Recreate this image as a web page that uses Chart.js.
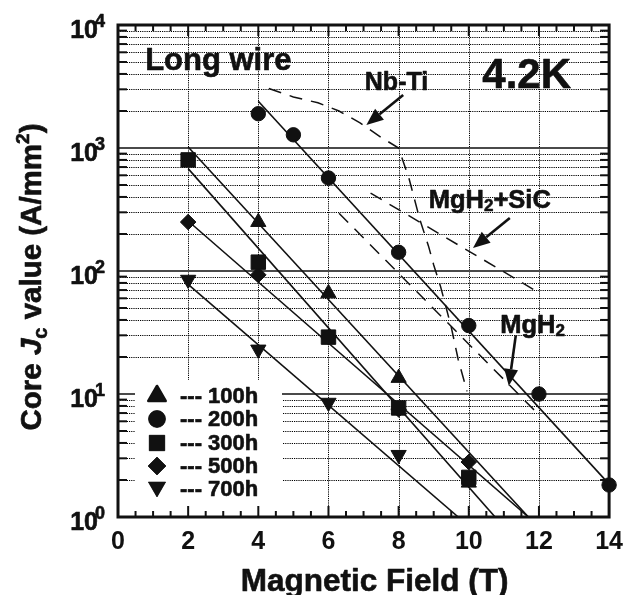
<!DOCTYPE html>
<html><head><meta charset="utf-8">
<script src="https://cdn.jsdelivr.net/npm/chart.js@4.4.0/dist/chart.umd.min.js"></script>
<style>html,body{margin:0;padding:0;background:#fff;}canvas{display:block;}</style>
</head><body>
<canvas id="c" width="633" height="595"></canvas>
<script>
// ---------- data ----------
const xTicks = [0, 2, 4, 6, 8, 10, 12, 14];
const yDecades = [0, 1, 2, 3, 4];
const seriesNames = ['100h', '200h', '300h', '500h', '700h'];

const field100 = [4, 6, 8, 10];            const jc100 = [250, 66, 13.5, 1.9];
const field200 = [4, 5, 6, 8, 10, 12, 14]; const jc200 = [1900, 1280, 570, 142, 36, 10, 1.82];
const field300 = [2, 4, 6, 8, 10];         const jc300 = [800, 118, 29, 7.7, 2.1];
const field500 = [2, 4, 6, 8, 10];         const jc500 = [250, 93, 29, 7.5, 2.8];
const field700 = [2, 4, 6, 8];             const jc700 = [85, 23, 8.5, 3.2];

// fitted (solid) lines
const fitField100 = [2, 11.7];  const fitJc100 = [1020, 1];
const fitField200 = [4, 14];    const fitJc200 = [2400, 1.85];
const fitField300 = [2, 10.75]; const fitJc300 = [680, 1];
const fitField500 = [2, 11.7];  const fitJc500 = [255, 1];
const fitField700 = [2, 9.7];   const fitJc700 = [78, 1];

// reference (dashed) curves
const nbtiField = [4.3, 5.0, 5.7, 6.3, 6.9, 7.5, 8.0, 8.3, 8.6, 8.85, 9.0, 9.2, 9.5, 9.7, 9.95];
const nbtiJc    = [3050, 2600, 2330, 2000, 1600, 1220, 1000, 560, 265, 160, 112, 74, 35, 19, 10.5];
const sicField  = [7.2, 11.95];  const sicJc  = [430, 68];
const mgh2Field = [6.3, 11.95];  const mgh2Jc = [295, 7];

// ---------- helpers ----------
const FAM = "'Liberation Sans', Arial, sans-serif";
const fnt = (s, it) => (it ? 'italic ' : '') + 'bold ' + s + 'px ' + FAM;
const pts = (xs, ys) => xs.map((v, i) => ({x: v, y: ys[i]}));
const INK = '#111';

function drawRuns(ctx, runs, x, y, align) {
  let w = 0;
  runs.forEach(r => { ctx.font = fnt(r.s, r.it); r.w = ctx.measureText(r.t).width; w += r.w; });
  let cx = align === 'center' ? x - w / 2 : (align === 'right' ? x - w : x);
  ctx.textAlign = 'left'; ctx.textBaseline = 'alphabetic';
  ctx.fillStyle = INK; ctx.strokeStyle = INK; ctx.lineWidth = 0.6; ctx.lineJoin = 'round';
  runs.forEach(r => {
    ctx.font = fnt(r.s, r.it);
    ctx.fillText(r.t, cx, y + (r.dy || 0));
    ctx.strokeText(r.t, cx, y + (r.dy || 0));
    cx += r.w;
  });
}
function seg(ctx, x1, y1, x2, y2) { ctx.beginPath(); ctx.moveTo(x1, y1); ctx.lineTo(x2, y2); ctx.stroke(); }
function arrow(ctx, x1, y1, x2, y2) {
  const ang = Math.atan2(y2 - y1, x2 - x1), L = 17, W = 7;
  const bx = x2 - L * Math.cos(ang), by = y2 - L * Math.sin(ang);
  ctx.lineWidth = 2.6; ctx.strokeStyle = INK; seg(ctx, x1, y1, bx, by);
  ctx.beginPath(); ctx.moveTo(x2, y2);
  ctx.lineTo(bx + W * Math.sin(ang), by - W * Math.cos(ang));
  ctx.lineTo(bx - W * Math.sin(ang), by + W * Math.cos(ang));
  ctx.closePath(); ctx.fillStyle = INK; ctx.fill();
}

const decor = {
  id: 'decor',
  beforeDatasetsDraw(chart) {
    const {ctx, chartArea: a, scales: {x, y}} = chart;
    ctx.save();
    ctx.strokeStyle = '#000'; ctx.lineWidth = 1; ctx.setLineDash([1.2, 1]);
    for (let e = 0; e < 4; e++) for (let m = 2; m <= 9; m++) {
      const py = Math.round(y.getPixelForValue(m * Math.pow(10, e))) + 0.5;
      seg(ctx, a.left, py, a.right, py);
    }
    xTicks.filter(t => t > 0 && t < 14).forEach(t => {
      const px = Math.round(x.getPixelForValue(t)) + 0.5;
      seg(ctx, px, a.top, px, a.bottom);
    });
    ctx.setLineDash([]);
    ctx.strokeStyle = '#4a4a4a'; ctx.lineWidth = 1.8;
    [1, 2, 3].forEach(e => { const py = y.getPixelForValue(Math.pow(10, e)); seg(ctx, a.left, py, a.right, py); });
    // legend background
    ctx.fillStyle = '#fff';
    ctx.fillRect(a.left + 17, a.bottom - 137, 147, 137);
    ctx.restore();
  },
  afterDatasetsDraw(chart) {
    const {ctx, chartArea: a, scales: {x, y}} = chart;
    ctx.save();
    // frame
    ctx.strokeStyle = INK; ctx.lineWidth = 3;
    ctx.strokeRect(a.left, a.top, a.right - a.left, a.bottom - a.top);
    // inner ticks x
    ctx.lineWidth = 2;
    for (let t = 0.5; t < 14; t += 0.5) {
      const px = x.getPixelForValue(t);
      const L = (t % 2 === 0) ? 11 : 6;
      seg(ctx, px, a.bottom, px, a.bottom - L);
      seg(ctx, px, a.top, px, a.top + L);
    }
    // inner ticks y
    for (let e = 0; e < 4; e++) for (let m = 2; m <= 9; m++) {
      const py = y.getPixelForValue(m * Math.pow(10, e));
      seg(ctx, a.left, py, a.left + 9, py);
      seg(ctx, a.right, py, a.right - 9, py);
    }
    // y tick labels 10^n
    yDecades.forEach(e => {
      const py = y.getPixelForValue(Math.pow(10, e));
      drawRuns(ctx, [{t: '10', s: 25}], a.left - 20, py + 13, 'right');
      drawRuns(ctx, [{t: String(e), s: 18}], a.left - 23, py + 2, 'left');
    });
    // axis titles
    drawRuns(ctx, [{t: 'Magnetic Field (T)', s: 31.5}], (a.left + a.right) / 2 + 11, 591, 'center');
    ctx.save();
    ctx.translate(30, 277); ctx.rotate(-Math.PI / 2);
    drawRuns(ctx, [
      {t: 'Core ', s: 29.5}, {t: 'J', s: 29.5, it: true}, {t: 'c', s: 20, dy: 6},
      {t: ' value (A/mm', s: 29.5}, {t: '2', s: 19, dy: -12}, {t: ')', s: 29.5}
    ], 0, 11, 'center');
    ctx.restore();
    // annotations
    const X = v => x.getPixelForValue(v), Y = v => y.getPixelForValue(v);
    drawRuns(ctx, [{t: 'Long wire', s: 31}], X(2.86), Y(4310), 'center');
    drawRuns(ctx, [{t: '4.2K', s: 42}], X(11.65), Y(3075), 'center');
    drawRuns(ctx, [{t: 'Nb-Ti', s: 25}], X(7.94), Y(2963), 'center');
    drawRuns(ctx, [{t: 'MgH', s: 25.5}, {t: '2', s: 17, dy: 3}, {t: '+SiC', s: 25.5}], X(10.6), Y(325), 'center');
    drawRuns(ctx, [{t: 'MgH', s: 25.5}, {t: '2', s: 17, dy: 3}], X(11.82), Y(31.3), 'center');
    arrow(ctx, X(8.13), Y(2700), X(7.08), Y(1540));
    arrow(ctx, X(11.17), Y(270), X(10.12), Y(154));
    arrow(ctx, X(11.34), Y(30), X(11.14), Y(11.6));
    // legend
    const rows = [122, 99, 75, 52, 29];
    const sizes = {triangle: 10, circle: 8.5, rect: 11, rectRot: 9};
    chart.data.datasets.slice(0, 5).forEach((ds, i) => {
      const cy = a.bottom - rows[i], cx = a.left + 39;
      ctx.fillStyle = INK; ctx.strokeStyle = INK;
      Chart.helpers.drawPoint(ctx, {pointStyle: ds.pointStyle, rotation: ds.pointRotation || 0,
        radius: sizes[ds.pointStyle], borderWidth: 1}, cx, cy + (ds.pointRotation ? -1 : 1));
      ctx.fill();
      drawRuns(ctx, [{t: '--- ' + seriesNames[i], s: 22}], a.left + 62, cy + 8, 'left');
    });
    ctx.restore();
  }
};

const mk = {showLine: false, borderColor: INK, backgroundColor: INK, borderWidth: 1, clip: false};
const fit = {pointRadius: 0, borderColor: INK, borderWidth: 1.6, tension: 0, fill: false};
const dsh = {pointRadius: 0, borderColor: INK, borderWidth: 1.5, borderDash: [13, 9], tension: 0, fill: false};

new Chart(document.getElementById('c'), {
  type: 'line',
  data: {
    datasets: [
      {...mk, label: seriesNames[0], data: pts(field100, jc100), pointStyle: 'triangle', pointRadius: 8.8},
      {...mk, label: seriesNames[1], data: pts(field200, jc200), pointStyle: 'circle', pointRadius: 7.2},
      {...mk, label: seriesNames[2], data: pts(field300, jc300), pointStyle: 'rect', pointRadius: 10.2},
      {...mk, label: seriesNames[3], data: pts(field500, jc500), pointStyle: 'rectRot', pointRadius: 7.8},
      {...mk, label: seriesNames[4], data: pts(field700, jc700), pointStyle: 'triangle', pointRotation: 180, pointRadius: 8.8},
      {...fit, label: 'fit100', data: pts(fitField100, fitJc100)},
      {...fit, label: 'fit200', data: pts(fitField200, fitJc200)},
      {...fit, label: 'fit300', data: pts(fitField300, fitJc300)},
      {...fit, label: 'fit500', data: pts(fitField500, fitJc500)},
      {...fit, label: 'fit700', data: pts(fitField700, fitJc700)},
      {...dsh, label: 'Nb-Ti', data: pts(nbtiField, nbtiJc)},
      {...dsh, label: 'MgH2+SiC', data: pts(sicField, sicJc)},
      {...dsh, label: 'MgH2', data: pts(mgh2Field, mgh2Jc)}
    ]
  },
  options: {
    responsive: false, animation: false, devicePixelRatio: 1,
    layout: {padding: {top: 25, right: 21, left: 0, bottom: 0}},
    plugins: {legend: {display: false}, tooltip: {enabled: false}},
    scales: {
      x: {type: 'linear', min: 0, max: 14,
        grid: {display: false, drawTicks: false}, border: {display: false},
        ticks: {stepSize: 2, padding: 10, color: INK, font: {family: FAM, weight: 'bold', size: 25}},
        afterBuildTicks: s => { s.ticks = xTicks.map(v => ({value: v})); },
        afterFit: s => { s.height = 78; }},
      y: {type: 'logarithmic', min: 1, max: 10000,
        grid: {display: false, drawTicks: false}, border: {display: false},
        ticks: {display: false},
        afterFit: s => { s.width = 118; }}
    }
  },
  plugins: [decor]
});
</script>
</body></html>
